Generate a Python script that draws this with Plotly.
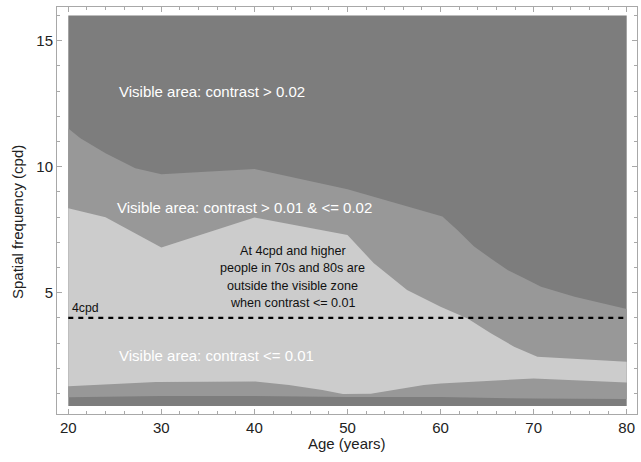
import plotly.graph_objects as go

# ---- data ----
age_bounds = [20, 80]
freq_bounds = [0.5, 16.0]

# upper boundary of the "contrast > 0.01 & <= 0.02" zone
mid_high_age = [20, 21.3, 24, 27.2, 30, 40, 50, 60.2, 61.8, 63.6, 65.4, 67.2, 69.0, 70.8, 74.4, 80]
mid_high_freq = [11.52, 11.13, 10.53, 9.94, 9.70, 9.91, 9.11, 8.02, 7.49, 6.83, 6.36, 5.90, 5.57, 5.24, 4.84, 4.35]

# lower boundary of the "contrast > 0.01 & <= 0.02" zone
mid_low_age = [20, 25, 30, 40, 50, 60, 70, 80]
mid_low_freq = [0.85, 0.87, 0.90, 0.90, 0.86, 0.86, 0.80, 0.78]

# upper boundary of the "contrast <= 0.01" zone
low_high_age = [20, 24, 30, 40, 50, 52.8, 56.4, 60, 62.9, 65.4, 67.9, 70.4, 75, 80]
low_high_freq = [8.35, 7.99, 6.79, 7.98, 7.29, 6.18, 5.11, 4.44, 3.98, 3.39, 2.86, 2.46, 2.35, 2.26]

# lower boundary of the "contrast <= 0.01" zone
low_low_age = [20, 29.4, 40.1, 43.7, 47.3, 49.5, 52.5, 54.6, 58.2, 60, 64.7, 70, 72.5, 80]
low_low_freq = [1.29, 1.46, 1.48, 1.34, 1.14, 0.98, 0.99, 1.11, 1.34, 1.40, 1.50, 1.60, 1.56, 1.44]

threshold_freq = 4  # 4cpd line

x_ticks = [20, 30, 40, 50, 60, 70, 80]
y_ticks = [5, 10, 15]

DARK = "rgb(125,125,125)"
MID = "rgb(152,152,152)"
LIGHT = "rgb(204,204,204)"
FONT = "Liberation Sans, Arial, sans-serif"
FRAME = "#a8a8a8"

fig = go.Figure()

# background zone: contrast > 0.02
fig.add_trace(go.Scatter(
    x=[age_bounds[0], age_bounds[1], age_bounds[1], age_bounds[0]],
    y=[freq_bounds[0], freq_bounds[0], freq_bounds[1], freq_bounds[1]],
    fill="toself", fillcolor=DARK, mode="lines", line=dict(width=0),
    hoverinfo="skip", showlegend=False))

# zone: contrast > 0.01 & <= 0.02
fig.add_trace(go.Scatter(
    x=mid_low_age + mid_high_age[::-1],
    y=mid_low_freq + mid_high_freq[::-1],
    fill="toself", fillcolor=MID, mode="lines", line=dict(width=0),
    hoverinfo="skip", showlegend=False))

# zone: contrast <= 0.01
fig.add_trace(go.Scatter(
    x=low_low_age + low_high_age[::-1],
    y=low_low_freq + low_high_freq[::-1],
    fill="toself", fillcolor=LIGHT, mode="lines", line=dict(width=0),
    hoverinfo="skip", showlegend=False))

# 4cpd dashed line
fig.add_trace(go.Scatter(
    x=age_bounds, y=[threshold_freq, threshold_freq], mode="lines",
    line=dict(color="black", width=2.4, dash="5px,5px"),
    hoverinfo="skip", showlegend=False))

ann = []
def txt(x, y, s, size, color):
    ann.append(dict(x=x, y=y, xref="x", yref="y", text=s, showarrow=False,
                    font=dict(size=size, color=color, family=FONT),
                    xanchor="center", yanchor="middle"))

txt(35.4, 13.0, "Visible area: contrast > 0.02", 15, "white")
txt(38.9, 8.39, "Visible area: contrast > 0.01 &amp; &lt;= 0.02", 15, "white")
txt(35.9, 2.49, "Visible area: contrast &lt;= 0.01", 15, "white")
txt(44.1, 6.67, "At 4cpd and higher", 12.6, "#111")
txt(44.1, 5.99, "people in 70s and 80s are", 12.6, "#111")
txt(44.1, 5.28, "outside the visible zone", 12.6, "#111")
txt(44.1, 4.58, "when contrast &lt;= 0.01", 12.6, "#111")
txt(21.9, 4.38, "4cpd", 12.3, "#111")

W, H = 641, 462
pl, pr, pt, pb = 57, 637, 7, 414  # plot area in window pixels


def paper_x(px):
    return (px - pl) / (pr - pl)


def paper_y(py):
    return (pb - py) / (pb - pt)


ann.append(dict(x=paper_x(347), y=paper_y(443), xref="paper", yref="paper",
                xanchor="center", yanchor="middle",
                text="Age (years)", showarrow=False,
                font=dict(size=15, color="#222", family=FONT)))
ann.append(dict(x=paper_x(17), y=paper_y(222), xref="paper", yref="paper",
                xanchor="center", yanchor="middle",
                text="Spatial frequency (cpd)", showarrow=False, textangle=-90,
                font=dict(size=15, color="#222", family=FONT)))
fig.update_layout(annotations=ann)

axis_common = dict(showgrid=False, zeroline=False, showline=True, linecolor=FRAME,
                   linewidth=1, mirror="allticks", ticks="inside", ticklen=5,
                   tickcolor=FRAME, tickwidth=1, automargin=False,
                   tickfont=dict(size=15, color="#222", family=FONT))

fig.update_xaxes(range=[18.786, 81.107], tickvals=x_ticks, ticktext=[str(v) for v in x_ticks],
                 minor=dict(dtick=2, tick0=20, ticks="inside", ticklen=2.7, tickcolor=FRAME),
                 **axis_common)
fig.update_yaxes(range=[0.187, 16.337], tickvals=y_ticks, ticktext=[str(v) for v in y_ticks],
                 minor=dict(dtick=1, tick0=0, ticks="inside", ticklen=2.7, tickcolor=FRAME),
                 **axis_common)

fig.update_layout(
    width=W, height=H,
    margin=dict(l=pl, r=W - pr, t=pt, b=H - pb, pad=0),
    plot_bgcolor="white", paper_bgcolor="white",
    font=dict(family=FONT),
)

fig.write_html("out.html",
               config={"displayModeBar": False},
               post_script="document.body.style.margin='0';document.body.style.overflow='hidden';")
